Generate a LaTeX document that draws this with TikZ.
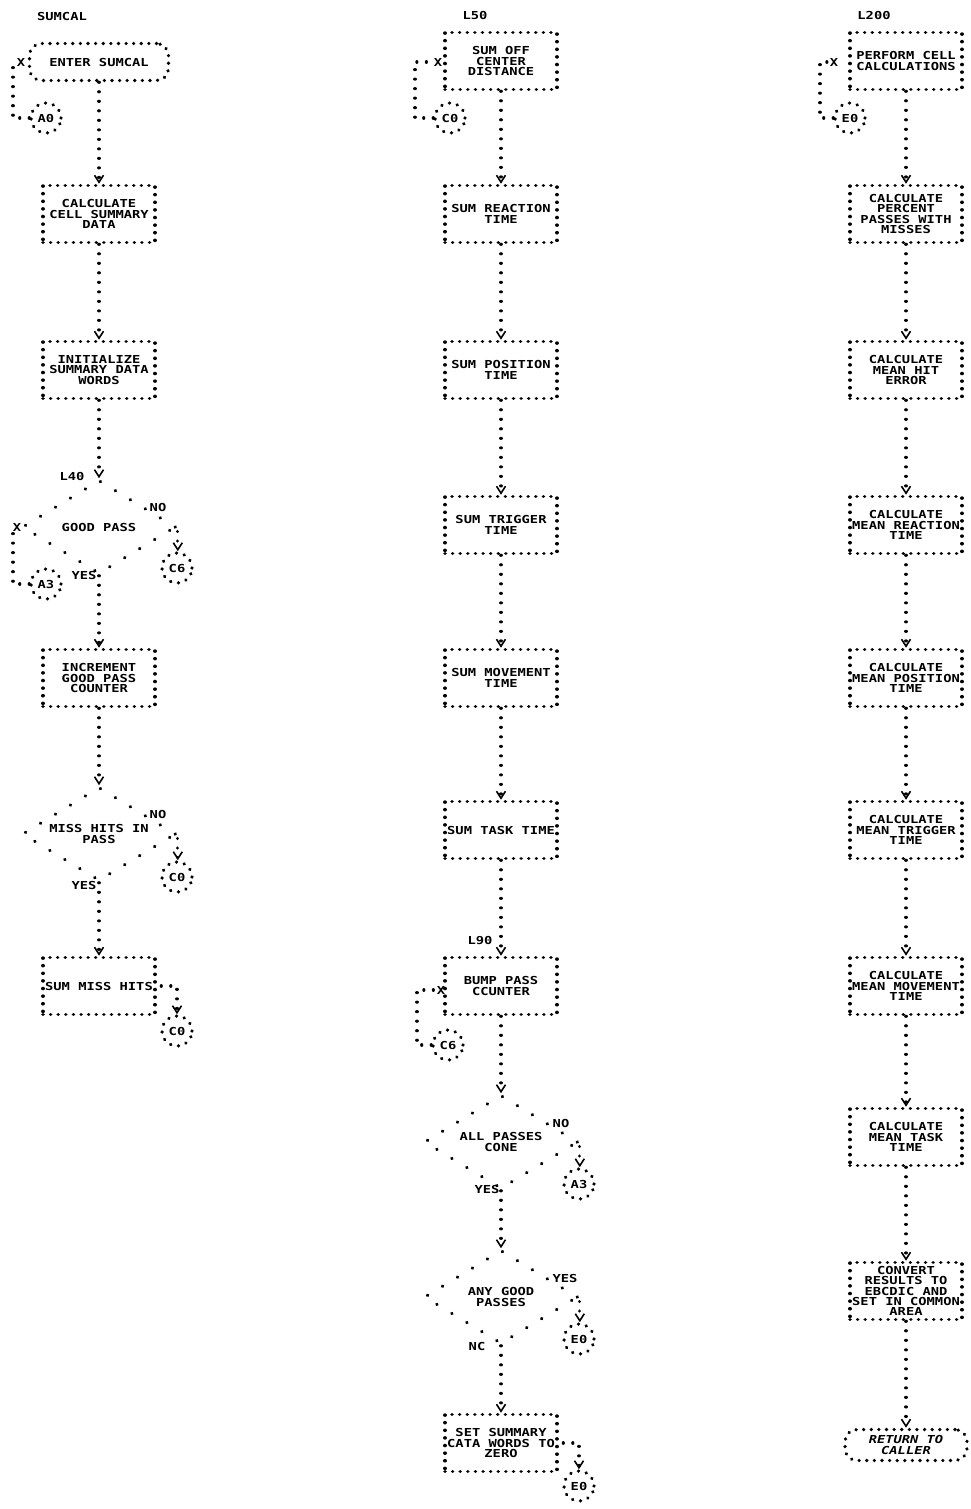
\documentclass[tikz,border=0pt]{standalone}
\usepackage{fontspec}
\newfontfamily\lpfont{DejaVu Sans Mono}[FakeStretch=1.25]
\usetikzlibrary{shapes.geometric,arrows.meta}

\tikzset{
  lp/.style={font=\lpfont\fontsize{11}{10.4}\selectfont\bfseries},
  lpdots/.style={line width=3.6pt, line cap=round, line join=round, dash pattern=on 0.01pt off 7.6pt},
  lpbox/.style={lp, draw, lpdots, rectangle, minimum width=112pt, minimum height=57pt, inner sep=1pt, align=center},
  lpterm/.style={lp, draw, lpdots, rectangle, rounded corners=12pt, inner sep=1pt, align=center},
  lpdec/.style={lp, draw, lpdots, dash pattern=on 0.01pt off 17.5pt, diamond, aspect=1.6,
    minimum width=154pt, minimum height=94pt, inner sep=0pt, align=center},
  lpconn/.style={lp, draw, lpdots, dash pattern=on 0.01pt off 8pt, circle, minimum size=30pt, inner sep=0pt},
  lbl/.style={lp, inner sep=0.5pt},
  link/.style={line width=3.2pt, line cap=round, line join=round, dash pattern=on 0.01pt off 9.5pt},
  flow/.style={link, -{Straight Barb[length=7pt,width=9pt,line width=1.6pt]}},
  sideflow/.style={flow, dash phase=5pt},
}

\begin{document}
\begin{tikzpicture}[x=1pt,y=-1pt]
  \fill[white] (0,0) rectangle (970,1509);
  \useasboundingbox (0,0) rectangle (970,1509);

  % column 1: SUMCAL
  \node[lbl] (tsumcal) at (62,16) {SUMCAL};
  \node[lpterm, minimum width=139pt, minimum height=37pt] (enter) at (99,62) {ENTER SUMCAL};
  \node[lpconn] (a0) at (46,118) {A0};
  \node[lbl] (xenter) at (21,62) {X};
  \coordinate (a0bend) at (13,62);
  \node[lpbox] (calc) at (99,214) {CALCULATE\\CELL SUMMARY\\DATA};
  \node[lpbox] (init) at (99,370) {INITIALIZE\\SUMMARY DATA\\WORDS};
  \node[lpdec] (goodpass) at (99,527) {GOOD PASS};
  \node[lbl] (tl40) at (72,476) {L40};
  \node[lbl] (xgood) at (17,527) {X};
  \coordinate (a3bend) at (13,527);
  \node[lpconn] (a3a) at (46,584) {A3};
  \node[lpconn] (c6a) at (177,568) {C6};
  \node[lbl] (nogood) at (158,507) {NO};
  \node[lbl] (yesgood) at (84,575) {YES};
  \node[lpbox] (incr) at (99,678) {INCREMENT\\GOOD PASS\\COUNTER};
  \node[lpdec] (misshits) at (99,834) {MISS HITS IN\\PASS};
  \node[lpconn] (c0a) at (177,877) {C0};
  \node[lbl] (nomiss) at (158,814) {NO};
  \node[lbl] (yesmiss) at (84,885) {YES};
  \node[lpbox] (summiss) at (99,986) {SUM MISS HITS};
  \node[lpconn] (c0b) at (177,1031) {C0};

  \draw[link] (a0) -| (a0bend) -- (xenter);
  \draw[flow] (enter) -- (calc);
  \draw[flow] (calc) -- (init);
  \draw[flow] (init) -- (goodpass);
  \draw[link] (a3a) -| (a3bend) -- (xgood);
  \draw[sideflow] (goodpass.east) -- (goodpass.east |- c6a.north);
  \draw[flow] (goodpass) -- (incr);
  \draw[flow] (incr) -- (misshits);
  \draw[sideflow] (misshits.east) -- (misshits.east |- c0a.north);
  \draw[flow] (misshits) -- (summiss);
  \draw[sideflow] (summiss) -| (c0b);

  % column 2: L50
  \node[lbl] (tl50) at (475,15) {L50};
  \node[lpbox] (sumoff) at (501,61) {SUM OFF\\CENTER\\DISTANCE};
  \node[lbl] (xoff) at (438,62) {X};
  \coordinate (c0bend) at (415,62);
  \node[lpconn] (c0c) at (450,118) {C0};
  \node[lpbox] (sumreact) at (501,214) {SUM REACTION\\TIME};
  \node[lpbox] (sumpos) at (501,370) {SUM POSITION\\TIME};
  \node[lpbox] (sumtrig) at (501,525) {SUM TRIGGER\\TIME};
  \node[lpbox] (summove) at (501,678) {SUM MOVEMENT\\TIME};
  \node[lpbox] (sumtask) at (501,830) {SUM TASK TIME};
  \node[lbl] (tl90) at (480,941) {L90};
  \node[lpbox] (bump) at (501,986) {BUMP PASS\\CCUNTER};
  \node[lbl] (xbump) at (441,990) {X};
  \coordinate (c6bend) at (417,990);
  \node[lpconn] (c6b) at (448,1045) {C6};
  \node[lpdec] (allpass) at (501,1142) {ALL PASSES\\CONE};
  \node[lbl] (noall) at (561,1123) {NO};
  \node[lbl] (yesall) at (487,1189) {YES};
  \node[lpconn] (a3b) at (579,1184) {A3};
  \node[lpdec] (anygood) at (501,1297) {ANY GOOD\\PASSES};
  \node[lbl] (yesany) at (565,1278) {YES};
  \node[lbl] (ncany) at (477,1346) {NC};
  \node[lpconn] (e0a) at (579,1339) {E0};
  \node[lpbox] (setzero) at (501,1443) {SET SUMMARY\\CATA WORDS TO\\ZERO};
  \node[lpconn] (e0b) at (579,1486) {E0};

  \draw[link] (c0c) -| (c0bend) -- (xoff);
  \draw[flow] (sumoff) -- (sumreact);
  \draw[flow] (sumreact) -- (sumpos);
  \draw[flow] (sumpos) -- (sumtrig);
  \draw[flow] (sumtrig) -- (summove);
  \draw[flow] (summove) -- (sumtask);
  \draw[flow] (sumtask) -- (bump);
  \draw[link] (c6b) -| (c6bend) -- (xbump);
  \draw[flow] (bump) -- (allpass);
  \draw[sideflow] (allpass.east) -- (allpass.east |- a3b.north);
  \draw[flow] (allpass) -- (anygood);
  \draw[sideflow] (anygood.east) -- (anygood.east |- e0a.north);
  \draw[flow] (anygood) -- (setzero);
  \draw[sideflow] (setzero) -| (e0b);

  % column 3: L200
  \node[lbl] (tl200) at (874,15) {L200};
  \node[lpbox] (perform) at (906,61) {PERFORM CELL\\CALCULATIONS};
  \node[lbl] (xperf) at (834,62) {X};
  \coordinate (e0bend) at (820,62);
  \node[lpconn] (e0c) at (850,118) {E0};
  \node[lpbox] (percent) at (906,214) {CALCULATE\\PERCENT\\PASSES WITH\\MISSES};
  \node[lpbox] (hiterr) at (906,370) {CALCULATE\\MEAN HIT\\ERROR};
  \node[lpbox] (mreact) at (906,525) {CALCULATE\\MEAN REACTION\\TIME};
  \node[lpbox] (mpos) at (906,678) {CALCULATE\\MEAN POSITION\\TIME};
  \node[lpbox] (mtrig) at (906,830) {CALCULATE\\MEAN TRIGGER\\TIME};
  \node[lpbox] (mmove) at (906,986) {CALCULATE\\MEAN MOVEMENT\\TIME};
  \node[lpbox] (mtask) at (906,1137) {CALCULATE\\MEAN TASK\\TIME};
  \node[lpbox] (convert) at (906,1291) {CONVERT\\RESULTS TO\\EBCDIC AND\\SET IN COMMON\\AREA};
  \node[lpterm, minimum width=122pt, minimum height=31pt] (return) at (906,1445) {\itshape RETURN TO\\\itshape CALLER};

  \draw[link] (e0c) -| (e0bend) -- (xperf);
  \draw[flow] (perform) -- (percent);
  \draw[flow] (percent) -- (hiterr);
  \draw[flow] (hiterr) -- (mreact);
  \draw[flow] (mreact) -- (mpos);
  \draw[flow] (mpos) -- (mtrig);
  \draw[flow] (mtrig) -- (mmove);
  \draw[flow] (mmove) -- (mtask);
  \draw[flow] (mtask) -- (convert);
  \draw[flow] (convert) -- (return);
\end{tikzpicture}
\end{document}
